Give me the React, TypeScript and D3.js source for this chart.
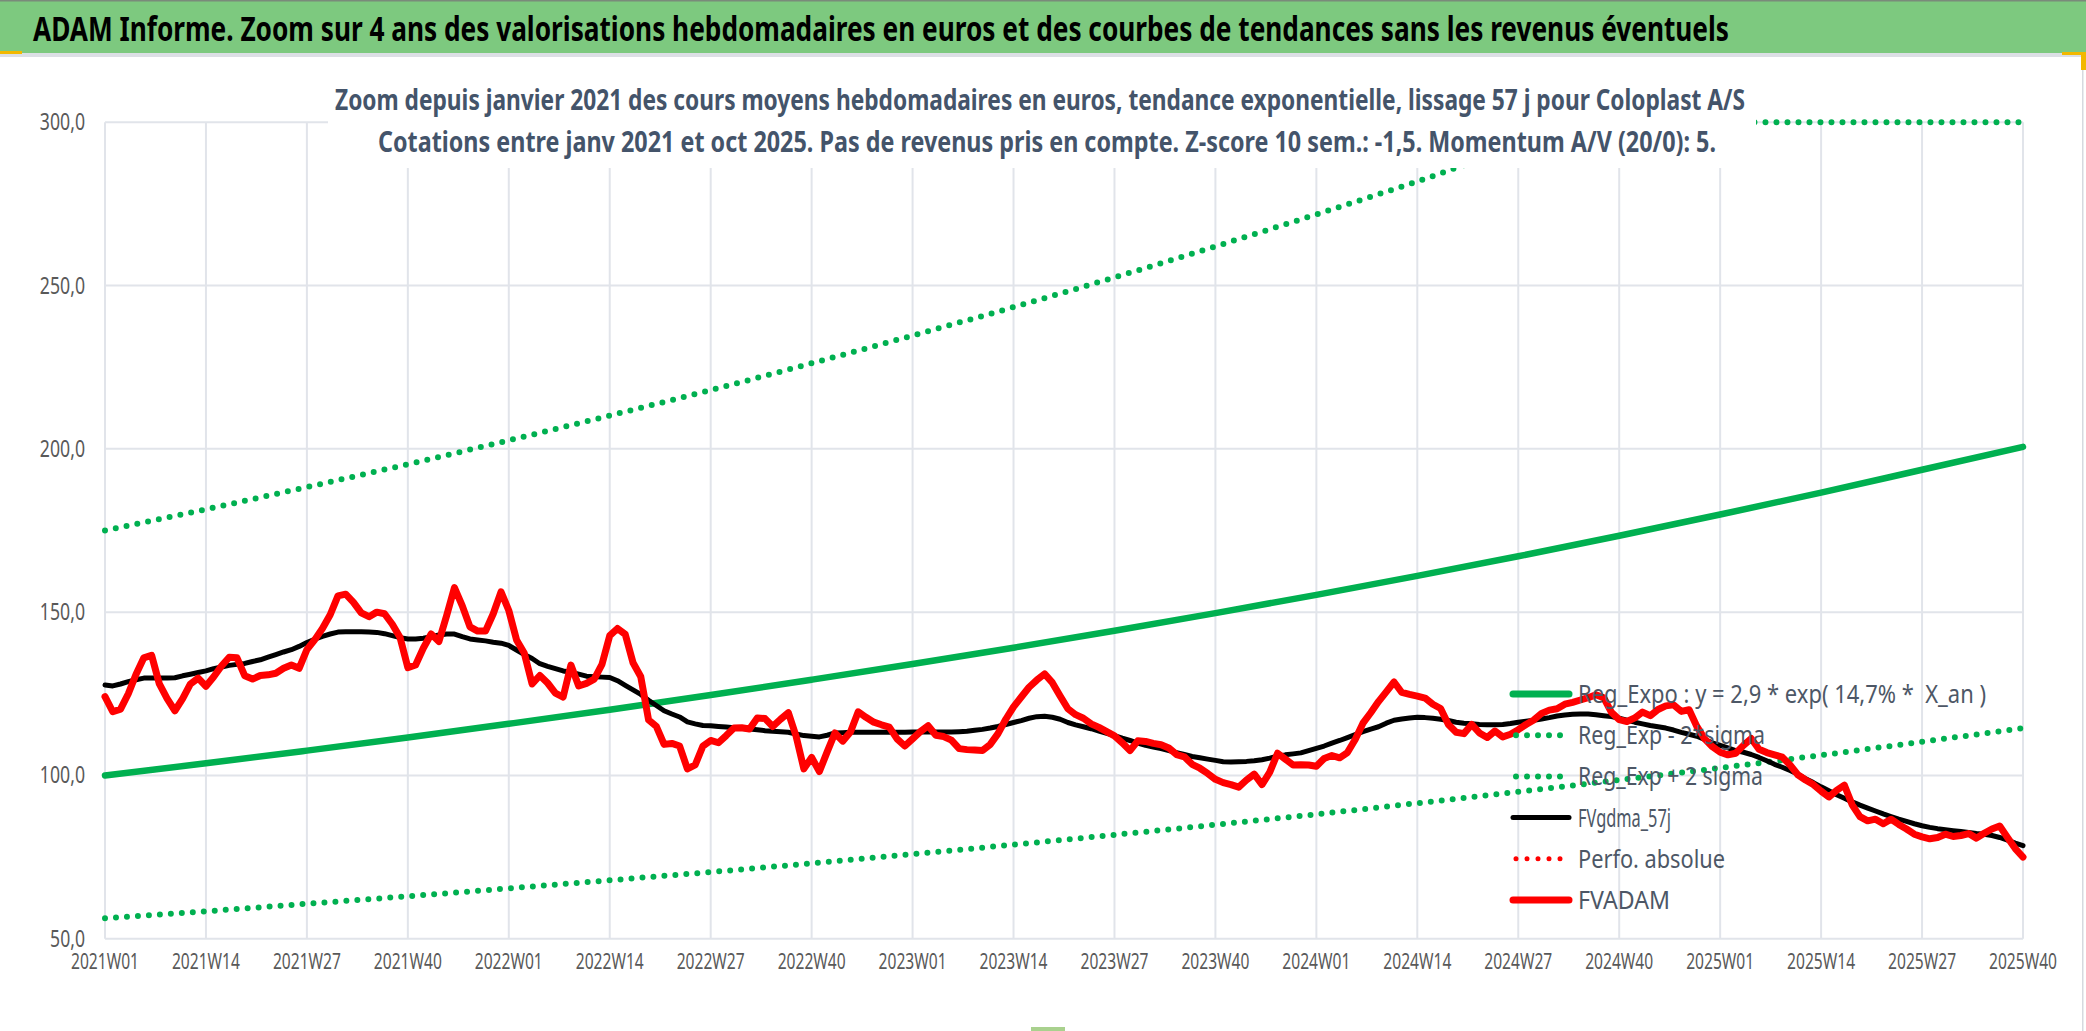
import React, { useEffect } from 'react';
import * as d3 from 'd3';

const W = 2086;
const H = 1031;

// ---- categories / ticks ----
const TICK_LABELS = [
  '2021W01', '2021W14', '2021W27', '2021W40', '2022W01', '2022W14', '2022W27', '2022W40',
  '2023W01', '2023W14', '2023W27', '2023W40', '2024W01', '2024W14', '2024W27', '2024W40',
  '2025W01', '2025W14', '2025W27', '2025W40',
];
const WEEKS_PER_TICK = 13;
const Y_TICKS = [50, 100, 150, 200, 250, 300];

// ---- trend curves, read at each labelled week ----
const REG_EXPO = [100, 103.7, 107.6, 111.6, 115.8, 120.1, 124.6, 129.3, 134.1, 139.1, 144.3, 149.7, 155.3, 161.1, 167.1, 173.4, 179.9, 186.6, 193.6, 200.6];
const REG_MINUS = [56.3, 58.4, 60.7, 63.0, 65.4, 67.9, 70.4, 73.1, 75.9, 78.8, 81.8, 84.9, 88.1, 91.5, 95.0, 98.6, 102.3, 106.2, 110.3, 114.5];
const REG_PLUS = [175, 181.5, 188.3, 195.3, 202.6, 210.2, 218.0, 226.2, 234.7, 243.4, 252.5, 262.0, 271.8, 281.9, 292.4, 303.4, 314.8, 326.6, 338.8, 351.5];

// ---- weekly FVADAM (red) ----
const FVADAM_2021 = [124.1, 119.5, 120.3, 125, 131, 136, 136.8, 128, 123.5, 119.8, 123.5, 128, 129.8, 127.3, 130.2, 133.5, 136.2, 136, 130.5, 129.5, 130.6, 130.8, 131.3, 132.8, 133.8, 132.8, 138.5, 141.5, 145, 149.2, 155, 155.5, 153, 149.8, 148.6, 150, 149.5, 146.3, 142.2, 133, 133.8, 139, 143.3, 141, 149, 157.5, 152, 145.5, 144.2, 144.2, 149.5, 156.2];
const FVADAM_2022 = [150.5, 141.5, 137.4, 128, 130.6, 128.3, 125.2, 124, 133.8, 127.4, 128.2, 129.5, 134, 142.8, 145, 143.2, 134.5, 130.2, 117, 115, 109.5, 109.8, 109, 102, 103.2, 109, 110.7, 110, 112.2, 114.5, 114.6, 114.2, 117.6, 117.4, 115, 117.2, 119.2, 112, 102, 105.5, 101.2, 107.2, 113, 110.5, 113.3, 119.5, 117.8, 116.3, 115.5, 114.8, 111.2, 109];
const FVADAM_2023 = [111.2, 113.4, 115.2, 112.3, 111.9, 110.8, 108.2, 107.9, 107.8, 107.6, 109.5, 112.8, 117.2, 121, 124, 127, 129.2, 131.1, 128.4, 124.3, 120.4, 118.6, 117.5, 115.8, 114.7, 113.4, 112.1, 110, 107.6, 110.6, 110.4, 109.8, 109.4, 108.4, 106.4, 105.7, 103.4, 102.2, 100.6, 98.8, 97.8, 97.2, 96.4, 98.6, 100.4, 97.2, 101, 106.8, 105, 103.2, 103.3, 103.2];
const FVADAM_2024 = [102.8, 105.2, 106.1, 105.4, 107, 111, 116, 119.2, 122.6, 125.6, 128.6, 125.4, 124.8, 124.3, 123.7, 121.8, 120.5, 115.6, 113.2, 112.8, 115.6, 113, 111.6, 113.6, 111.8, 112.6, 114, 115.6, 117, 119, 120, 120.4, 121.8, 122.4, 123.1, 123.8, 124.7, 123.8, 119.3, 117.1, 116.5, 117.6, 119.4, 118.3, 120.2, 121.3, 121.6, 119.6, 120.1, 115, 111.2, 108.8];
const FVADAM_2025 = [107.1, 106.3, 106.8, 109.2, 111.3, 108, 107, 106.3, 105.6, 103.2, 100.2, 98.6, 97.2, 95.2, 93.4, 95.4, 97, 91, 87.4, 86.1, 86.6, 85.2, 86.6, 85, 83.6, 82, 81.2, 80.6, 81, 82, 81.3, 81.6, 82.2, 80.8, 82.3, 83.6, 84.5, 81, 77.6, 75];

// ---- weekly FVgdma_57j (black) ----
const FVGDMA_2021 = [127.7, 127.4, 128, 128.7, 129.3, 129.8, 129.8, 129.8, 129.8, 129.9, 130.5, 131, 131.5, 132, 132.7, 133.2, 133.7, 134, 134.3, 134.9, 135.4, 136.2, 137, 137.8, 138.5, 139.5, 140.7, 141.7, 142.6, 143.3, 143.9, 144, 144, 144, 143.9, 143.8, 143.4, 142.8, 142.2, 141.8, 141.8, 142, 142.5, 143, 143.3, 143.3, 142.5, 141.8, 141.5, 141.2, 140.8, 140.5];
const FVGDMA_2022 = [139.8, 138.4, 137, 135.8, 134.2, 133.4, 132.7, 132, 131.6, 131, 130.4, 130.2, 130.1, 130, 129, 127.6, 126.2, 124.8, 123, 121.4, 119.8, 118.8, 117.9, 116.4, 115.8, 115.3, 115.2, 115, 114.8, 114.6, 114.4, 114.2, 114, 113.7, 113.5, 113.4, 113.2, 112.7, 112.2, 112, 111.8, 112.3, 113, 113.1, 113.2, 113.2, 113.2, 113.2, 113.2, 113.2, 113.2, 113.2];
const FVGDMA_2023 = [113.3, 113.3, 113.3, 113.3, 113.3, 113.3, 113.4, 113.5, 113.8, 114.1, 114.5, 115, 115.6, 116.2, 116.8, 117.5, 118, 118.1, 117.8, 117.2, 116.2, 115.5, 114.9, 114.3, 113.6, 112.9, 112.2, 111.4, 110.7, 109.9, 109.2, 108.7, 108.2, 107.6, 107, 106.4, 105.8, 105.4, 105, 104.6, 104.2, 104.1, 104.2, 104.3, 104.5, 104.8, 105.3, 105.9, 106.3, 106.6, 106.9, 107.6];
const FVGDMA_2024 = [108.3, 109, 109.9, 110.7, 111.6, 112.5, 113.4, 114.2, 114.9, 116, 116.9, 117.3, 117.6, 117.8, 117.7, 117.5, 117.2, 116.8, 116.3, 116, 115.8, 115.6, 115.5, 115.5, 115.6, 115.9, 116.3, 116.6, 116.9, 117.3, 117.7, 118.2, 118.5, 118.7, 118.8, 118.8, 118.6, 118.3, 118, 117.5, 116.9, 116.3, 115.8, 115.3, 114.9, 114.5, 113.9, 113.2, 112.6, 112, 111, 110];
const FVGDMA_2025 = [109.2, 108.4, 107.6, 107.1, 106.4, 105.5, 104.5, 103.4, 102.5, 101.5, 100.4, 99, 97.8, 96.5, 95.3, 94.1, 93, 91.9, 90.9, 90, 89.1, 88.2, 87.4, 86.6, 85.9, 85.2, 84.6, 84.1, 83.7, 83.4, 83.1, 82.8, 82.5, 82.2, 82, 81.6, 81, 80.2, 79.3, 78.5];

const FVADAM = [...FVADAM_2021, ...FVADAM_2022, ...FVADAM_2023, ...FVADAM_2024, ...FVADAM_2025];
const FVGDMA = [...FVGDMA_2021, ...FVGDMA_2022, ...FVGDMA_2023, ...FVGDMA_2024, ...FVGDMA_2025];

const TITLE = 'ADAM Informe. Zoom sur 4 ans des valorisations hebdomadaires en euros et des courbes de tendances sans les revenus éventuels';
const SUB1 = 'Zoom depuis janvier 2021 des cours moyens hebdomadaires en euros, tendance exponentielle, lissage 57 j pour Coloplast A/S';
const SUB2 = 'Cotations entre janv 2021 et oct 2025. Pas de revenus pris en compte. Z-score 10 sem.: -1,5. Momentum A/V (20/0): 5.';

const LEGEND = [
  { label: 'Reg_Expo : y = 2,9 * exp( 14,7% *  X_an )', color: '#00B050', dotted: false, w: 7, tl: 408 },
  { label: 'Reg_Exp - 2*sigma', color: '#00B050', dotted: true, w: 6, tl: 187 },
  { label: 'Reg_Exp + 2 sigma', color: '#00B050', dotted: true, w: 6, tl: 185 },
  { label: 'FVgdma_57j', color: '#000000', dotted: false, w: 5, tl: 93 },
  { label: 'Perfo. absolue', color: '#FF0000', dotted: true, w: 5, tl: 147 },
  { label: 'FVADAM', color: '#FF0000', dotted: false, w: 7, tl: 92 },
];

const FONT = "'Noto Sans', 'Open Sans', sans-serif";

export default function App() {
  useEffect(() => {
    document.body.style.margin = '0';
  }, []);

  const x = d3.scaleLinear().domain([0, FVADAM.length - 1]).range([105, 2023]);
  const y = d3.scaleLinear().domain([50, 300]).range([938.7, 122.3]);

  const weekly = d3.line<number>().x((_, i) => x(i)).y((d) => y(d)).curve(d3.curveLinear);
  const trend = d3
    .line<number>()
    .x((_, i) => x(i * WEEKS_PER_TICK))
    .y((d) => y(Math.min(d, 300)))
    .curve(d3.curveMonotoneX);

  const gridColor = '#E1E4EA';
  const legendX0 = 1513;
  const legendX1 = 1569;
  const legendTextX = 1578;
  const legendY0 = 694;
  const legendDy = 41.2;

  return (
    <svg
      width={W}
      height={H}
      viewBox={`0 0 ${W} ${H}`}
      style={{ position: 'absolute', left: 0, top: 0, display: 'block', background: '#fff' }}
      fontFamily={FONT}
    >
      <rect x={0} y={0} width={W} height={H} fill="#ffffff" />
      {/* title bar */}
      <rect x={0} y={0} width={W} height={53} fill="#7DC97F" />
      <rect x={0} y={0} width={W} height={1.5} fill="#7A8A7A" />
      <rect x={0} y={53} width={W} height={4} fill="#DCDFE5" />
      <rect x={0} y={51} width={22} height={3} fill="#F2B800" />
      <rect x={2062} y={52} width={24} height={3} fill="#F2B800" />
      <rect x={2081} y={52} width={5} height={18} fill="#F2B800" />
      <rect x={2082} y={70} width={1.5} height={H - 70} fill="#D6D9DF" />
      <rect x={1031} y={1027} width={34} height={4} fill="#A9D18E" />
      <text
        x={33}
        y={41}
        fontSize={34}
        fontWeight="bold"
        fill="#000"
        textLength={1696}
        lengthAdjust="spacingAndGlyphs"
      >
        {TITLE}
      </text>

      {/* gridlines */}
      {Y_TICKS.map((t) => (
        <line key={'h' + t} x1={105} x2={2023} y1={y(t)} y2={y(t)} stroke={gridColor} strokeWidth={2} />
      ))}
      {TICK_LABELS.map((lab, k) => (
        <line
          key={'v' + lab}
          x1={x(k * WEEKS_PER_TICK)}
          x2={x(k * WEEKS_PER_TICK)}
          y1={y(300)}
          y2={y(50)}
          stroke={gridColor}
          strokeWidth={2}
        />
      ))}

      {/* y labels */}
      {Y_TICKS.map((t) => {
        const s = t.toFixed(1).replace('.', ',');
        const digits = s.length - 1;
        return (
          <text
            key={'yl' + t}
            x={85}
            y={y(t) + 8}
            textAnchor="end"
            fontSize={23}
            fill="#595959"
            textLength={digits * 10.3 + 4}
            lengthAdjust="spacingAndGlyphs"
          >
            {s}
          </text>
        );
      })}

      {/* x labels */}
      {TICK_LABELS.map((lab, k) => (
        <text
          key={'xl' + lab}
          x={x(k * WEEKS_PER_TICK)}
          y={969}
          textAnchor="middle"
          fontSize={22}
          fill="#595959"
          textLength={68}
          lengthAdjust="spacingAndGlyphs"
        >
          {lab}
        </text>
      ))}

      {/* series */}
      <path d={trend(REG_EXPO) || ''} fill="none" stroke="#00B050" strokeWidth={6.5} strokeLinecap="round" />
      <path
        d={trend(REG_MINUS) || ''}
        fill="none"
        stroke="#00B050"
        strokeWidth={6}
        strokeDasharray="0 11"
        strokeLinecap="round"
      />
      <path
        d={trend(REG_PLUS) || ''}
        fill="none"
        stroke="#00B050"
        strokeWidth={6}
        strokeDasharray="0 11"
        strokeLinecap="round"
      />
      <path
        d={weekly(FVGDMA) || ''}
        fill="none"
        stroke="#000000"
        strokeWidth={5}
        strokeLinejoin="round"
        strokeLinecap="round"
      />
      <path
        d={weekly(FVADAM) || ''}
        fill="none"
        stroke="#FF0000"
        strokeWidth={7}
        strokeLinejoin="round"
        strokeLinecap="round"
      />

      {/* subtitle box */}
      <rect x={328} y={72} width={1428} height={96} fill="#ffffff" />
      <text
        x={335}
        y={110}
        fontSize={28}
        fontWeight="bold"
        fill="#44546A"
        textLength={1410}
        lengthAdjust="spacingAndGlyphs"
      >
        {SUB1}
      </text>
      <text
        x={378}
        y={152}
        fontSize={28}
        fontWeight="bold"
        fill="#44546A"
        textLength={1338}
        lengthAdjust="spacingAndGlyphs"
      >
        {SUB2}
      </text>

      {/* legend */}
      {LEGEND.map((e, k) => {
        const yy = legendY0 + k * legendDy;
        return (
          <g key={'lg' + k}>
            <line
              x1={legendX0 + (e.dotted ? 3 : 0)}
              x2={legendX1}
              y1={yy}
              y2={yy}
              stroke={e.color}
              strokeWidth={e.w}
              strokeLinecap="round"
              strokeDasharray={e.dotted ? '0 11' : undefined}
            />
            <text
              x={legendTextX}
              y={yy + 9}
              fontSize={25}
              fill="#4D5766"
              style={{ whiteSpace: 'pre' }}
              textLength={e.tl}
              lengthAdjust="spacingAndGlyphs"
            >
              {e.label}
            </text>
          </g>
        );
      })}
    </svg>
  );
}
